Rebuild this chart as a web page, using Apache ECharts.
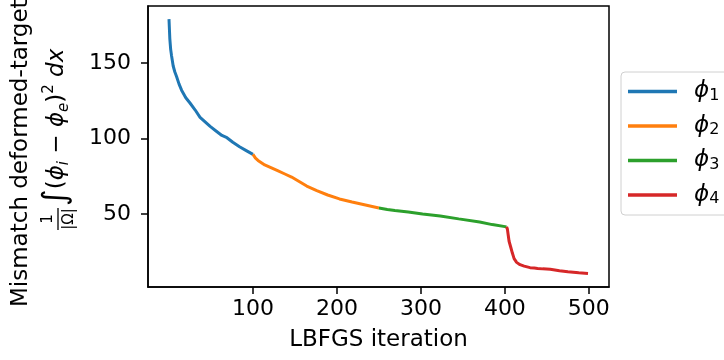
<!DOCTYPE html>
<html>
<head>
<meta charset="utf-8">
<script src="https://cdn.jsdelivr.net/npm/echarts@6/dist/echarts.min.js"></script>
<style>
html,body{margin:0;padding:0;background:#fff;}
#chart{width:724px;height:360px;}
</style>
</head>
<body>
<div id="chart"></div>
<script>
// ---- data ----
const seriesNames = ['ϕ1', 'ϕ2', 'ϕ3', 'ϕ4'];
const phi1Iter = [0, 1, 2, 3, 5, 7, 9, 12, 15, 20, 25, 31, 37, 43, 49, 56, 63, 69, 76, 84, 92, 100];
const phi1Vals = [179, 166, 159, 155, 148, 144, 141, 136, 132, 127, 123.5, 119, 114, 111, 108, 105, 102, 100.5, 97.5, 94.5, 92, 89.5];
const phi2Iter = [100, 103, 106, 110, 114, 122, 130, 138, 146, 155, 164, 176, 189, 203, 218, 234, 250];
const phi2Vals = [89.5, 87, 85.5, 84, 82.5, 80.5, 78.5, 76.5, 74.5, 71.5, 68.5, 65.5, 62.6, 60, 58, 56, 54];
const phi3Iter = [250, 260, 269, 285, 302, 323, 345, 370, 385, 402];
const phi3Vals = [54, 53, 52.3, 51.3, 50, 48.7, 46.8, 44.7, 43, 41.5];
const phi4Iter = [402, 403, 404, 405, 407, 409, 411, 414, 418, 423, 430, 435, 437, 439, 445, 446, 447, 454, 455, 456, 465, 475, 488, 499];
const phi4Vals = [41.5, 40, 36, 32, 28, 24, 20.5, 18, 16.5, 15.5, 14.5, 14.3, 15, 14, 13.7, 14.8, 13.6, 13.4, 14.3, 13.2, 12.5, 11.8, 11.2, 10.7];
const xTicks = [100, 200, 300, 400, 500];
const yTicks = [50, 100, 150];
const colors = ['#1f77b4', '#ff7f0e', '#2ca02c', '#d62728'];

const FONT = '"DejaVu Sans", sans-serif';
function pairs(xs, ys) { return xs.map((x, i) => [x, ys[i]]); }
const allIters = [phi1Iter, phi2Iter, phi3Iter, phi4Iter];
const allVals = [phi1Vals, phi2Vals, phi3Vals, phi4Vals];

const chart = echarts.init(document.getElementById('chart'), null, {renderer: 'canvas'});
const axisLineStyle = {color: '#000', width: 1.5};
const option = {
  animation: false,
  backgroundColor: '#fff',
  color: colors,
  grid: {left: 148, top: 6, width: 461, height: 281, show: true, borderColor: '#000', borderWidth: 1.5, outerBoundsMode: 'none', containLabel: false},
  xAxis: {
    type: 'value', min: -25, max: 524,
    axisLine: {show: true, onZero: false, lineStyle: axisLineStyle},
    axisTick: {show: true, length: 7, lineStyle: axisLineStyle, customValues: xTicks},
    axisLabel: {customValues: xTicks, fontSize: 22, color: '#000', margin: 11, fontFamily: FONT},
    splitLine: {show: false},
    name: 'LBFGS iteration', nameLocation: 'middle', nameGap: 42,
    nameTextStyle: {fontSize: 23, color: '#000', fontFamily: FONT}
  },
  yAxis: {
    type: 'value', min: 1.7, max: 187.7,
    axisLine: {show: true, onZero: false, lineStyle: axisLineStyle},
    axisTick: {show: true, length: 7, lineStyle: axisLineStyle, customValues: yTicks},
    axisLabel: {customValues: yTicks, fontSize: 22, color: '#000', margin: 17, fontFamily: FONT},
    splitLine: {show: false}
  },
  legend: {
    orient: 'vertical', left: 621, top: 72,
    padding: [8, 40, 8, 7], itemGap: 11, itemWidth: 49, itemHeight: 3.5,
    icon: 'rect', borderColor: '#d0d0d0', borderWidth: 1, borderRadius: 4, backgroundColor: '#fff',
    data: seriesNames,
    formatter: function (name) { return '{p|ϕ}{s|' + name.slice(1) + '}'; },
    textStyle: {
      rich: {
        p: {fontSize: 23, fontStyle: 'italic', fontFamily: FONT, color: '#000', lineHeight: 24, padding: [0, 0, 0, 12]},
        s: {fontSize: 16, fontFamily: FONT, color: '#000', lineHeight: 14, verticalAlign: 'bottom'}
      }
    }
  },
  graphic: [
    {type: 'text', x: 21, y: 307, rotation: Math.PI / 2,
     style: {text: 'Mismatch deformed-target', font: '23px ' + FONT, fill: '#000', align: 'left', verticalAlign: 'middle'}},
    {type: 'group', x: 58, y: 141, rotation: Math.PI / 2, children: [
      {type: 'text', x: -78, y: -10, style: {text: '1', font: '15px ' + FONT, fill: '#000', align: 'center', verticalAlign: 'middle'}},
      {type: 'line', shape: {x1: -89, y1: 0, x2: -67, y2: 0}, style: {stroke: '#000', lineWidth: 1.3}},
      {type: 'text', x: -78, y: 11, style: {text: '|Ω|', font: '15px ' + FONT, fill: '#000', align: 'center', verticalAlign: 'middle'}},
      {type: 'text', x: -65, y: -1, style: {
        text: '{i|∫}{n|(}{v|ϕ}{b|i}{n| − }{v|ϕ}{b|e}{n|)}{p|2}{n| }{v|dx}',
        align: 'left', verticalAlign: 'middle', fill: '#000',
        rich: {
          i: {fontSize: 32, fontFamily: FONT, fill: '#000', lineHeight: 30, verticalAlign: 'middle'},
          n: {fontSize: 23, fontFamily: FONT, fill: '#000', lineHeight: 28, verticalAlign: 'middle'},
          v: {fontSize: 23, fontStyle: 'italic', fontFamily: FONT, fill: '#000', lineHeight: 28, verticalAlign: 'middle'},
          b: {fontSize: 15, fontStyle: 'italic', fontFamily: FONT, fill: '#000', lineHeight: 14, verticalAlign: 'bottom'},
          p: {fontSize: 15, fontFamily: FONT, fill: '#000', lineHeight: 14, verticalAlign: 'top'}
        }
      }}
    ]}
  ],
  series: seriesNames.map((name, k) => ({
    name: name, type: 'line', showSymbol: false, symbol: 'none',
    data: pairs(allIters[k], allVals[k]),
    lineStyle: {width: 3, color: colors[k]},
    itemStyle: {color: colors[k]},
    z: 3
  }))
};
chart.setOption(option);
</script>
</body>
</html>
